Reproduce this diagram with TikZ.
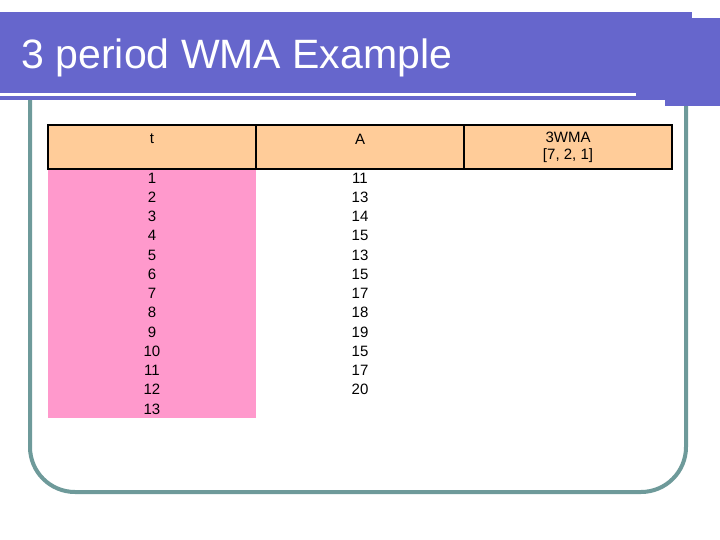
\documentclass[tikz,border=0pt]{standalone}
\usepackage{fontspec}
\setmainfont{Liberation Sans}
\definecolor{barblue}{HTML}{6666CC}
\definecolor{frame}{HTML}{6E9A9A}
\definecolor{hdr}{HTML}{FFCC99}
\definecolor{pinkc}{HTML}{FF99CC}
\begin{document}
\begin{tikzpicture}[x=1pt,y=-1pt,
  cell/.style={font=\fontsize{15}{17}\selectfont, anchor=center},
  hcell/.style={draw=black, line width=1.5pt, fill=hdr}]
\useasboundingbox (0,0) rectangle (720,540);
\fill[white] (0,0) rectangle (720,540);
% frame
\draw[frame, line width=4pt, rounded corners=45pt] (30,100) -- (30,492) -- (686,492) -- (686,100);
% title bar
\fill[barblue] (0,12) rectangle (692,100);
\fill[barblue] (665,18) rectangle (720,106);
\draw[white, line width=3pt] (0,95) -- (636,95);
\node[anchor=west, text=white, font=\fontsize{41}{45}\selectfont] (title) at (18,58) {3 period WMA Example};
% table
\fill[pinkc] (48,169) rectangle (256,418);
\draw[hcell] (48,125) rectangle (256,169);
\draw[hcell] (256,125) rectangle (464,169);
\draw[hcell] (464,125) rectangle (672,169);
\node[cell] (ht) at (152,139) {t};
\node[cell] (ha) at (360,139) {A};
\node[cell, align=center] (hw) at (568,147) {3WMA\\{[7, 2, 1]}};
\foreach \i in {1,...,13} {
  \node[cell] (t\i) at (152,{178+(\i-1)*19.25}) {\i};
}
\foreach \v [count=\i] in {11,13,14,15,13,15,17,18,19,15,17,20} {
  \node[cell] (a\i) at (360,{178+(\i-1)*19.25}) {\v};
}
\end{tikzpicture}
\end{document}
